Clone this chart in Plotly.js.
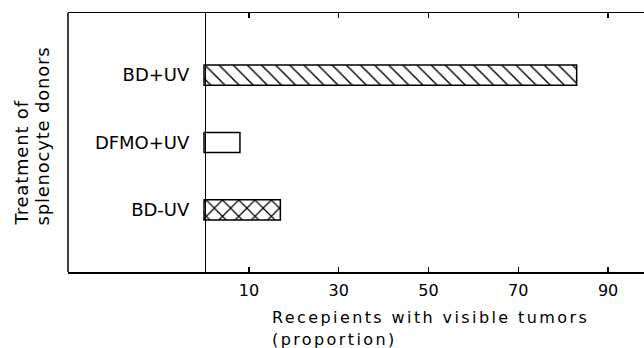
<!DOCTYPE html>
<html>
<head>
<meta charset="utf-8">
<script src="https://cdn.plot.ly/plotly-3.0.1.min.js"></script>
<style>
  html, body { margin: 0; padding: 0; background: #fff; }
  #chart { width: 644px; height: 348px; }
</style>
</head>
<body>
<div id="chart"></div>
<script>
// Data (bottom to top)
const categories = ['BD-UV', 'DFMO+UV', 'BD+UV'];
const values = [17, 8, 83];
const patterns = ['x', '', '\\'];
const xTickVals = [10, 30, 50, 70, 90];
const xTickText = ['10', '30', '50', '70', '90'];
const xTitleLine1 = 'Recepients with visible tumors';
const xTitleLine2 = '(proportion)';
const yTitleLine1 = 'Treatment of';
const yTitleLine2 = 'splenocyte donors';

const FONT = 'DejaVu Sans, sans-serif';
const spaced = (t, s) => '<span style="letter-spacing:' + s + 'px">' + t + '</span>';

const trace = {
  type: 'bar',
  orientation: 'h',
  x: values,
  y: categories,
  width: 0.3,
  marker: {
    color: 'white',
    line: { color: 'black', width: 1.5 },
    pattern: {
      shape: patterns,
      fgcolor: 'black',
      bgcolor: 'white',
      size: [11.5, 10, 10],
      solidity: [0.2, 0.15, 0.14],
      fillmode: 'replace'
    }
  },
  hoverinfo: 'skip'
};

const layout = {
  width: 644,
  height: 348,
  margin: { l: 68, r: 0, t: 13, b: 76, pad: 0 },
  paper_bgcolor: 'white',
  plot_bgcolor: 'white',
  showlegend: false,
  font: { family: FONT, color: 'black', size: 16 },
  xaxis: {
    range: [-30.3, 98],
    tickvals: xTickVals,
    ticktext: xTickText,
    ticks: 'inside',
    ticklen: 5,
    tickwidth: 1.2,
    tickcolor: 'black',
    showline: true,
    linecolor: 'black',
    linewidth: 1.5,
    mirror: 'ticks',
    showgrid: false,
    zeroline: false,
    ticklabelstandoff: 3,
    tickfont: { family: FONT, size: 16, color: 'black' }
  },
  yaxis: {
    type: 'category',
    categoryorder: 'array',
    categoryarray: categories,
    range: [-0.92, 2.92],
    anchor: 'free',
    position: 0.2378,
    showline: true,
    linecolor: 'black',
    linewidth: 1.5,
    ticks: '',
    showgrid: false,
    zeroline: false,
    ticklabelstandoff: 12,
    tickfont: { family: FONT, size: 18, color: 'black' }
  },
  shapes: [
    { type: 'line', xref: 'paper', yref: 'paper', x0: 0, x1: 0, y0: 0, y1: 1,
      line: { color: 'black', width: 1.5 } }
  ],
  annotations: [
    { text: spaced(xTitleLine1, 2.4), xref: 'x', yref: 'paper', x: 14.6, y: -0.133,
      xanchor: 'left', yanchor: 'top', showarrow: false,
      font: { family: FONT, size: 16, color: 'black' } },
    { text: spaced(xTitleLine2, 2.4), xref: 'x', yref: 'paper', x: 14.6, y: -0.215,
      xanchor: 'left', yanchor: 'top', showarrow: false,
      font: { family: FONT, size: 16, color: 'black' } },
    { text: spaced(yTitleLine1, 0.8), xref: 'paper', yref: 'paper', x: (21 - 68) / 576, y: (272 - 228) / 259,
      xanchor: 'center', yanchor: 'bottom', textangle: -90, showarrow: false,
      font: { family: FONT, size: 18, color: 'black' } },
    { text: spaced(yTitleLine2, 0.8), xref: 'paper', yref: 'paper', x: (42 - 68) / 576, y: (272 - 228) / 259,
      xanchor: 'center', yanchor: 'bottom', textangle: -90, showarrow: false,
      font: { family: FONT, size: 18, color: 'black' } }
  ]
};

Plotly.newPlot('chart', [trace], layout, { displayModeBar: false, staticPlot: true });
</script>
</body>
</html>
